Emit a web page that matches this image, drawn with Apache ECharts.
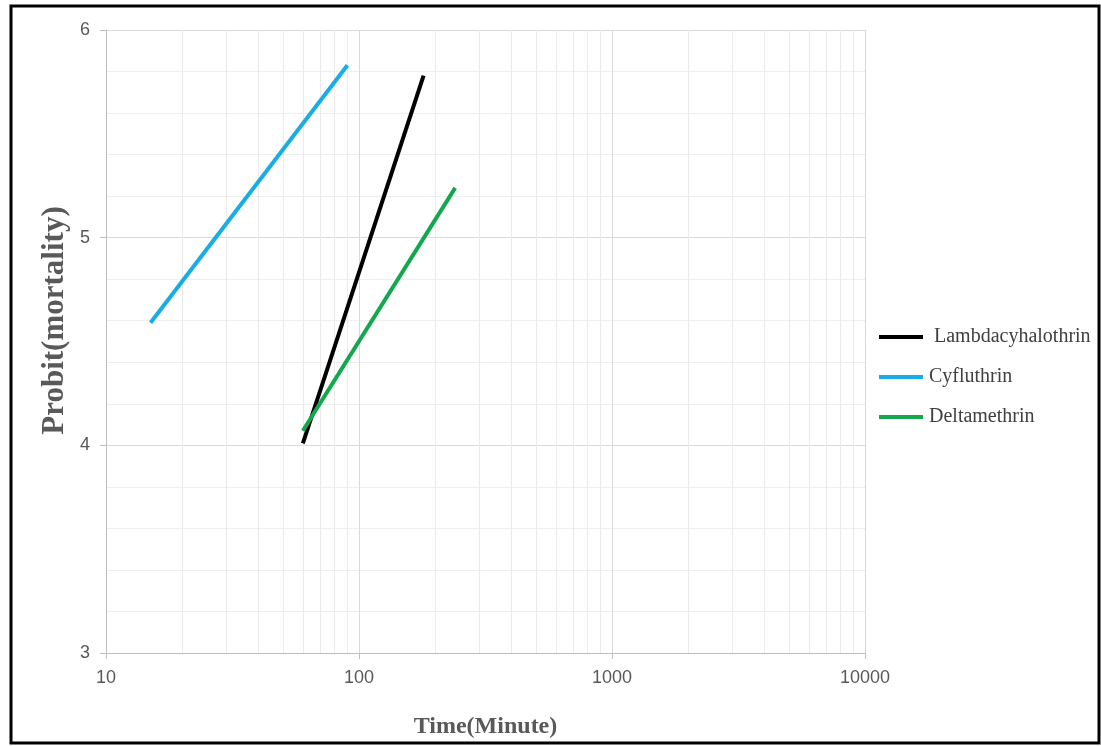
<!DOCTYPE html>
<html>
<head>
<meta charset="utf-8">
<script src="https://cdn.jsdelivr.net/npm/echarts@6/dist/echarts.min.js"></script>
<style>html,body{margin:0;padding:0;background:#fff;}#c{width:1101px;height:746px;}</style>
</head>
<body>
<div id="c"></div>
<script>
const seriesNames = ['Lambdacyhalothrin', 'Cyfluthrin', 'Deltamethrin'];
const lambdaData = [[60, 4.01], [180, 5.78]];
const cyfluthrinData = [[15, 4.59], [90, 5.83]];
const deltamethrinData = [[60, 4.07], [240, 5.24]];
const xMinorGrid = [20,30,40,50,60,70,80,90,200,300,400,500,600,700,800,900,2000,3000,4000,5000,6000,7000,8000,9000];
const colors = ['#000000', '#1AADE3', '#13A84E'];

const chart = echarts.init(document.getElementById('c'));
chart.setOption({
  animation: false,
  backgroundColor: '#ffffff',
  graphic: [{
    type: 'rect', shape: {x: 11, y: 6, width: 1088, height: 737},
    style: {fill: 'none', stroke: '#000', lineWidth: 3}, z: 100, silent: true
  }],
  grid: {left: 106, right: 236, top: 30, bottom: 93},
  legend: {
    orient: 'vertical', left: 874, top: 322, itemGap: 20,
    itemWidth: 44, itemHeight: 4, icon: 'rect',
    data: seriesNames,
    formatter: function (n) { return n === 'Lambdacyhalothrin' ? ' ' + n : n; },
    textStyle: {fontFamily: 'Liberation Serif', fontSize: 20, color: '#404040', padding: [0,0,0,1]}
  },
  xAxis: {
    type: 'log', logBase: 10, min: 10, max: 10000,
    name: 'Time(Minute)', nameLocation: 'middle', nameGap: 62,
    nameTextStyle: {fontFamily: 'Liberation Serif', fontWeight: 'bold', fontSize: 24, color: '#595959'},
    axisLine: {show: true, lineStyle: {color: '#bfbfbf', width: 1}},
    axisTick: {show: true, length: 6, lineStyle: {color: '#bfbfbf'}},
    axisLabel: {fontFamily: 'Liberation Sans', fontSize: 18, color: '#595959', margin: 16,
      formatter: function (v) { return String(v); }},
    splitLine: {show: true, lineStyle: {color: '#d9d9d9', width: 1}}
  },
  yAxis: {
    type: 'value', min: 3, max: 6, interval: 1,
    name: 'Probit(mortality)', nameLocation: 'middle', nameGap: 36, nameMoveOverlap: false,
    nameTextStyle: {fontFamily: 'Liberation Serif', fontWeight: 'bold', fontSize: 31, color: '#595959',
      padding: [16, 0, 0, 42]},
    axisLine: {show: true, lineStyle: {color: '#bfbfbf', width: 1}},
    axisTick: {show: true, length: 6, lineStyle: {color: '#bfbfbf'}},
    axisLabel: {fontFamily: 'Liberation Sans', fontSize: 18, color: '#595959', margin: 16},
    splitLine: {show: true, lineStyle: {color: '#d9d9d9', width: 1}},
    minorTick: {show: false, splitNumber: 5},
    minorSplitLine: {show: true, lineStyle: {color: '#eeeeee', width: 1}}
  },
  series: [
    {
      name: seriesNames[0], type: 'line', data: lambdaData, showSymbol: false,
      lineStyle: {color: colors[0], width: 4}, itemStyle: {color: colors[0]},
      markLine: {
        silent: true, symbol: 'none', label: {show: false}, z: 0,
        lineStyle: {color: '#ebebeb', width: 1, type: 'solid'},
        emphasis: {disabled: true},
        data: xMinorGrid.map(v => ({xAxis: v}))
      }
    },
    {
      name: seriesNames[1], type: 'line', data: cyfluthrinData, showSymbol: false,
      lineStyle: {color: colors[1], width: 4}, itemStyle: {color: colors[1]}
    },
    {
      name: seriesNames[2], type: 'line', data: deltamethrinData, showSymbol: false,
      lineStyle: {color: colors[2], width: 4}, itemStyle: {color: colors[2]}
    }
  ]
});
</script>
</body>
</html>
